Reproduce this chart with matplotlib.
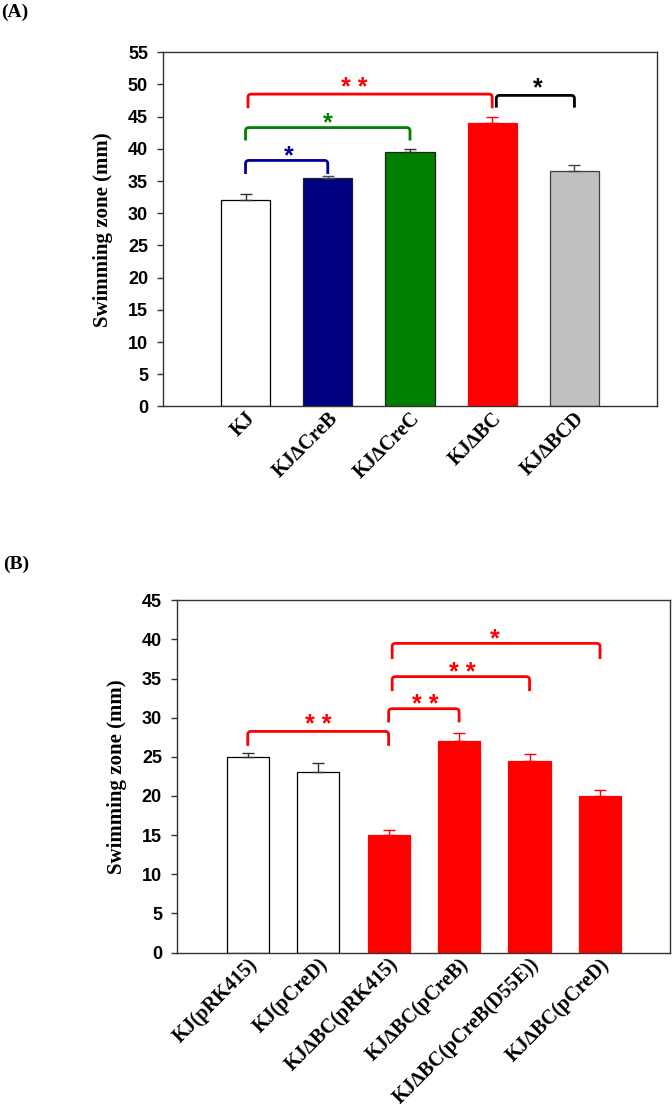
import matplotlib
matplotlib.use("Agg")
import matplotlib.pyplot as plt
from matplotlib.path import Path
from matplotlib.patches import PathPatch

# ---------------- data ----------------
a_labels = ["KJ", "KJ\u2206CreB", "KJ\u2206CreC", "KJ\u2206BC", "KJ\u2206BCD"]
a_values = [32.0, 35.5, 39.5, 44.0, 36.5]
a_errors = [1.0, 0.3, 0.5, 1.0, 1.0]
a_colors = ["#FFFFFF", "#000080", "#008000", "#FF0000", "#C0C0C0"]
a_edges = ["#000000", "#202020", "#202020", "#FF0000", "#404040"]
a_errcolors = ["#303030", "#505050", "#303030", "#FF0000", "#404040"]
a_yticks = list(range(0, 56, 5))
# brackets: (x_start, x_end, y_top, y_leg_end, text, text_x, text_y(centre), colour)
a_brackets = [
    (0.0, 1.0, 38.2, 36.1, "*", 0.53, 39.3, "#000099"),
    (0.0, 2.0, 43.3, 41.3, "*", 1.0, 44.4, "#008000"),
    (0.03, 3.0, 48.5, 46.3, "* *", 1.32, 49.8, "#FF0000"),
    (3.05, 4.0, 48.3, 46.4, "*", 3.55, 49.8, "#000000"),
]

b_labels = ["KJ(pRK415)", "KJ(pCreD)", "KJ\u2206BC(pRK415)", "KJ\u2206BC(pCreB)",
            "KJ\u2206BC(pCreB(D55E))", "KJ\u2206BC(pCreD)"]
b_values = [25.0, 23.0, 15.0, 27.0, 24.5, 20.0]
b_errors = [0.5, 1.2, 0.7, 1.0, 0.9, 0.8]
b_colors = ["#FFFFFF", "#FFFFFF", "#FF0000", "#FF0000", "#FF0000", "#FF0000"]
b_edges = ["#000000", "#000000", "#FF0000", "#FF0000", "#FF0000", "#FF0000"]
b_errcolors = ["#303030", "#303030", "#FF0000", "#FF0000", "#FF0000", "#FF0000"]
b_yticks = list(range(0, 46, 5))
b_brackets = [
    (0.0, 2.0, 28.25, 26.4, "* *", 1.0, 29.4, "#FF0000"),
    (2.0, 3.0, 31.15, 29.4, "* *", 2.52, 32.0, "#FF0000"),
    (2.05, 4.0, 35.25, 33.4, "* *", 3.04, 36.1, "#FF0000"),
    (2.05, 5.0, 39.5, 37.5, "*", 3.5, 40.4, "#FF0000"),
]

SERIF = ["Liberation Serif", "DejaVu Serif"]
SANS = ["Liberation Sans", "DejaVu Sans"]


def bracket(ax, x1, x2, ytop, yend, color, rx, ry):
    verts = [(x1, yend), (x1, ytop - ry), (x1, ytop), (x1 + rx, ytop),
             (x2 - rx, ytop), (x2, ytop), (x2, ytop - ry), (x2, yend)]
    codes = [Path.MOVETO, Path.LINETO, Path.CURVE3, Path.CURVE3,
             Path.LINETO, Path.CURVE3, Path.CURVE3, Path.LINETO]
    ax.add_patch(PathPatch(Path(verts, codes), fill=False, edgecolor=color,
                           lw=2.0, capstyle="butt", joinstyle="round"))


def panel(ax, labels, values, errors, colors, edges, errcolors, yticks, brackets, rx, ry):
    x = list(range(len(values)))
    ax.bar(x, values, width=0.6, color=colors, edgecolor=edges, linewidth=0.9, zorder=2)
    for xi, v, e, c in zip(x, values, errors, errcolors):
        ax.errorbar([xi], [v], yerr=[[0], [e]], fmt="none", ecolor=c,
                    elinewidth=1.0, capsize=4.5, capthick=1.0, zorder=3)
    ax.set_xlim(-1, len(values))
    ax.set_ylim(yticks[0], yticks[-1])
    ax.set_yticks(yticks)
    ax.set_xticks(x)
    ax.set_xticklabels(labels, rotation=45, ha="right", va="top",
                       rotation_mode="anchor", family=SERIF,
                       fontweight="bold", fontsize=14.5)
    ax.tick_params(axis="x", length=0, pad=1.5)
    ax.tick_params(axis="y", direction="out", length=4, width=1, pad=7,
                   color="#333333")
    for lab in ax.get_yticklabels():
        lab.set_family(SANS)
        lab.set_fontweight("bold")
        lab.set_fontsize(13)
    for sp in ax.spines.values():
        sp.set_color("#333333")
        sp.set_linewidth(1.0)
    ax.set_ylabel("Swimming zone (mm)", family=SERIF, fontweight="bold", fontsize=15)
    ax.yaxis.set_label_coords(-0.101, 0.5)
    for (x1, x2, yt, ye, txt, tx, ty, col) in brackets:
        bracket(ax, x1, x2, yt, ye, col, rx, ry)
        ax.annotate(txt, (tx, ty), xytext=(0, -7), textcoords="offset points",
                    color=col, ha="center", va="baseline",
                    family=SANS, fontweight="bold", fontsize=18)


fig = plt.figure(figsize=(6.72, 11.09), dpi=100)
axA = fig.add_axes([0.2430, 0.6335, 0.7342, 0.3194])
axB = fig.add_axes([0.2638, 0.1411, 0.7339, 0.3176])

panel(axA, a_labels, a_values, a_errors, a_colors, a_edges, a_errcolors,
      a_yticks, a_brackets, rx=0.04, ry=0.5)
panel(axB, b_labels, b_values, b_errors, b_colors, b_edges, b_errcolors,
      b_yticks, b_brackets, rx=0.045, ry=0.4)

fig.text(0.002, 1 - 4 / 1109, "(A)", family=SERIF, fontweight="bold",
         fontsize=14, ha="left", va="top")
fig.text(0.004, 1 - 556 / 1109, "(B)", family=SERIF, fontweight="bold",
         fontsize=14, ha="left", va="top")

fig.savefig("out.png", dpi=100)
